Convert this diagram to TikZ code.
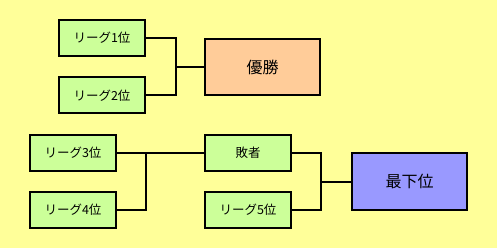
\documentclass[tikz,border=0pt]{standalone}
\usepackage{fontspec}
\setmainfont{Noto Sans CJK JP}
\definecolor{bgyellow}{HTML}{FFFF99}
\definecolor{teamgreen}{HTML}{CCFF99}
\definecolor{winpeach}{HTML}{FFCC99}
\definecolor{lastblue}{HTML}{9999FF}

\begin{document}
\begin{tikzpicture}[x=1pt,y=-1pt,
    team/.style={draw,line width=2pt,fill=teamgreen,inner sep=0pt,
        minimum width=86pt,minimum height=36pt,font=\fontsize{12.5}{13}\selectfont},
    final/.style={draw,line width=2pt,inner sep=0pt,
        minimum width=115pt,minimum height=56pt,font=\fontsize{16}{17}\selectfont},
    link/.style={line width=2pt}]
%background first, it also fixes the size of the page
\fill[bgyellow] (0,0) rectangle (497,248);
\useasboundingbox (0,0) rectangle (497,248);
% upper bracket: the two league winners play for the title
\node[team] (l1) at (102,38) {リーグ1位};
\node[team] (l2) at (102,95.5) {リーグ2位};
\node[final,fill=winpeach] (win) at (262.5,67) {優勝};
\coordinate (j1) at (176,67);
\draw[link] (l1.east) -| (j1) |- (l2.east);
\draw[link] (j1) -- (win.west);
% lower bracket: 3rd vs 4th, then the loser meets 5th
\node[team] (l3) at (73,153) {リーグ3位};
\node[team] (l4) at (73,210) {リーグ4位};
\node[team] (lose) at (248,153) {敗者};
\node[team] (l5) at (248,210) {リーグ5位};
\node[final,fill=lastblue] (last) at (409.5,181.5) {最下位};
\coordinate (j2) at (146,153);
\coordinate (j3) at (321,181.5);
\draw[link] (l3.east) -- (lose.west);
\draw[link] (l4.east) -| (j2);
\draw[link] (lose.east) -| (j3) |- (l5.east);
\draw[link] (j3) -- (last.west);
\end{tikzpicture}
\end{document}
